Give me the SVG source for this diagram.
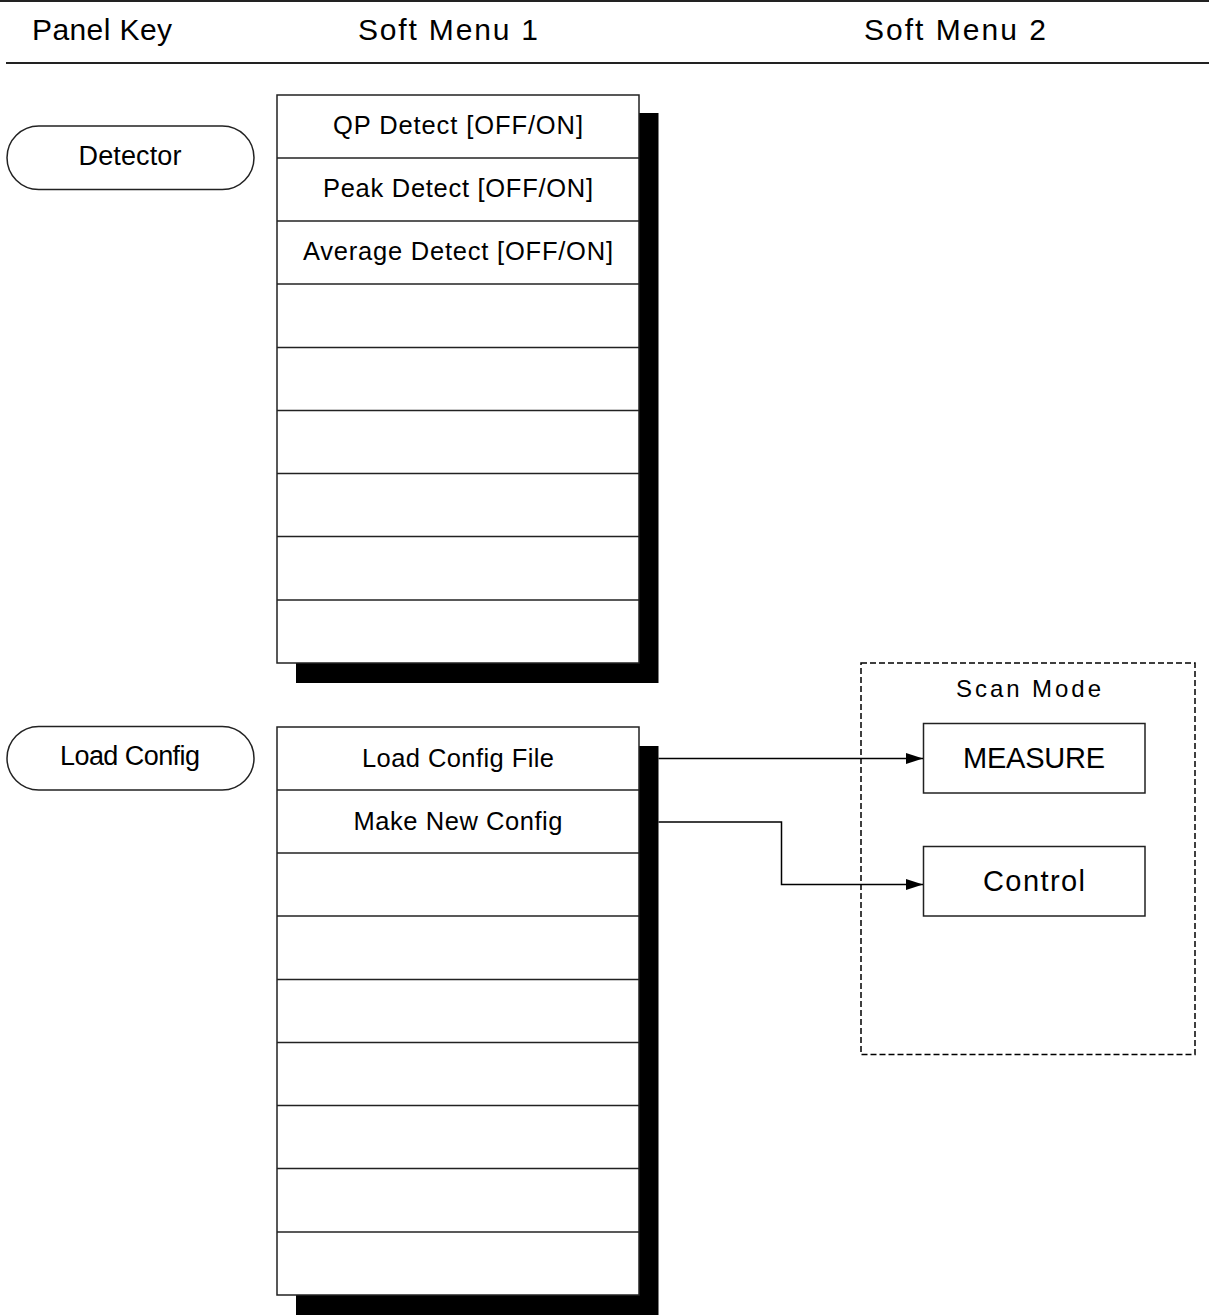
<svg xmlns="http://www.w3.org/2000/svg" width="1209" height="1315" viewBox="0 0 1209 1315">
<style>
  text { font-family: "Liberation Sans", Arial, sans-serif; fill: #000; }
  .hdr { font-size: 30px; }
  .item { font-size: 25.5px; text-anchor: middle; }
  .key { font-size: 27px; text-anchor: middle; }
  .big { font-size: 29px; text-anchor: middle; }
  .box { fill: #fff; stroke: #222; stroke-width: 1.5; }
  .row { stroke: #222; stroke-width: 1.5; }
  .shadow { fill: #000; }
  .conn { fill: none; stroke: #000; stroke-width: 1.5; }
</style>
<defs>
  <marker id="arrow" markerUnits="userSpaceOnUse" markerWidth="18" markerHeight="12" refX="17" refY="5.5" orient="auto">
    <path d="M0,0 L17,5.5 L0,11 Z" fill="#000"/>
  </marker>
</defs>
<rect width="1209" height="1315" fill="#fff"/>

<g id="header">
  <line x1="0" y1="1" x2="1209" y2="1" stroke="#222" stroke-width="2"/>
  <line x1="6" y1="63" x2="1209" y2="63" stroke="#222" stroke-width="2"/>
  <text class="hdr" x="32" y="40" textLength="140" lengthAdjust="spacing">Panel Key</text>
  <text class="hdr" x="358" y="40" textLength="180" lengthAdjust="spacing">Soft Menu 1</text>
  <text class="hdr" x="864" y="40" textLength="182" lengthAdjust="spacing">Soft Menu 2</text>
</g>

<g id="key-detector">
  <rect class="box" x="7" y="126" width="247" height="63.5" rx="31.75" ry="31.75"/>
  <text class="key" x="130" y="165" textLength="103" lengthAdjust="spacing">Detector</text>
</g>

<g id="key-load-config">
  <rect class="box" x="7" y="726.5" width="247" height="63.5" rx="31.75" ry="31.75"/>
  <text class="key" x="130" y="765" textLength="140" lengthAdjust="spacing">Load Config</text>
</g>

<g id="menu-detector">
  <path class="shadow" d="M639,113 H658.5 V683 H296 V663 H639 Z"/>
  <rect class="box" x="277" y="95" width="362" height="568"/>
  <line class="row" x1="277" y1="158" x2="639" y2="158"/>
  <line class="row" x1="277" y1="221" x2="639" y2="221"/>
  <line class="row" x1="277" y1="284" x2="639" y2="284"/>
  <line class="row" x1="277" y1="347.5" x2="639" y2="347.5"/>
  <line class="row" x1="277" y1="410.5" x2="639" y2="410.5"/>
  <line class="row" x1="277" y1="473.5" x2="639" y2="473.5"/>
  <line class="row" x1="277" y1="536.5" x2="639" y2="536.5"/>
  <line class="row" x1="277" y1="600" x2="639" y2="600"/>
  <text class="item" x="458" y="134" textLength="250" lengthAdjust="spacing">QP Detect [OFF/ON]</text>
  <text class="item" x="458" y="197" textLength="270" lengthAdjust="spacing">Peak Detect [OFF/ON]</text>
  <text class="item" x="458" y="259.5" textLength="310" lengthAdjust="spacing">Average Detect [OFF/ON]</text>
</g>

<g id="menu-load-config">
  <path class="shadow" d="M639,746 H658.5 V1315 H296 V1295 H639 Z"/>
  <rect class="box" x="277" y="727" width="362" height="568"/>
  <line class="row" x1="277" y1="790" x2="639" y2="790"/>
  <line class="row" x1="277" y1="853" x2="639" y2="853"/>
  <line class="row" x1="277" y1="916" x2="639" y2="916"/>
  <line class="row" x1="277" y1="979.5" x2="639" y2="979.5"/>
  <line class="row" x1="277" y1="1042.5" x2="639" y2="1042.5"/>
  <line class="row" x1="277" y1="1105.5" x2="639" y2="1105.5"/>
  <line class="row" x1="277" y1="1168.5" x2="639" y2="1168.5"/>
  <line class="row" x1="277" y1="1232" x2="639" y2="1232"/>
  <text class="item" x="458" y="766.5" textLength="192" lengthAdjust="spacing">Load Config File</text>
  <text class="item" x="458" y="829.5" textLength="209" lengthAdjust="spacing">Make New Config</text>
</g>

<g id="scan-mode">
  <rect x="861" y="663" width="334" height="391.5" fill="none" stroke="#000" stroke-width="1.5" stroke-dasharray="6,3"/>
  <text x="956" y="697" font-size="24" textLength="145" lengthAdjust="spacing">Scan Mode</text>
</g>

<g id="measure">
  <rect class="box" x="923.5" y="723.5" width="221.5" height="69.5"/>
  <text class="big" x="1034" y="768" textLength="142" lengthAdjust="spacing">MEASURE</text>
</g>

<g id="control">
  <rect class="box" x="923.5" y="846.5" width="221.5" height="69.5"/>
  <text class="big" x="1034" y="891" textLength="102" lengthAdjust="spacing">Control</text>
</g>

<g id="connectors">
  <path class="conn" d="M658.5,758.5 H923" marker-end="url(#arrow)"/>
  <path class="conn" d="M658.5,822 H781.5 V884.5 H923" marker-end="url(#arrow)"/>
</g>
</svg>
